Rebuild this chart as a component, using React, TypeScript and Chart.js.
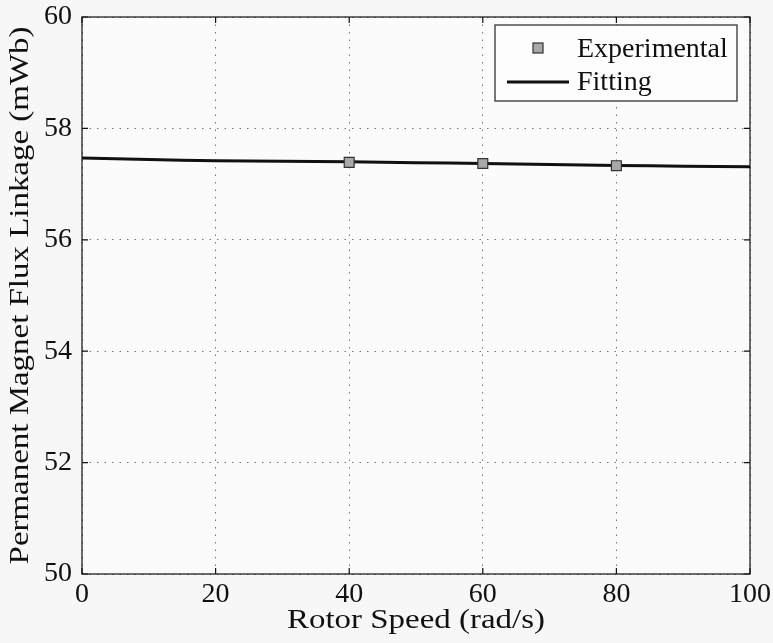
import React, { useEffect, useRef } from "react";
import { Chart, registerables } from "chart.js";

Chart.register(...registerables);

const fitSpeed = [0, 10, 20, 30, 40, 50, 60, 70, 80, 90, 100];
const fitFlux = [57.47, 57.44, 57.42, 57.41, 57.4, 57.385, 57.37, 57.35, 57.335, 57.32, 57.31];
const expSpeed = [40, 60, 80];
const expFlux = [57.39, 57.37, 57.33];
const xTicks = [0, 20, 40, 60, 80, 100];
const yTicks = [50, 52, 54, 56, 58, 60];
const legendLabels = ["Experimental", "Fitting"];
const xTitle = "Rotor Speed (rad/s)";
const yTitle = "Permanent Magnet Flux Linkage (mWb)";

const FONT = "'Liberation Serif', 'Times New Roman', serif";

const framePlugin = {
  id: "frame",
  beforeDraw(chart: any) {
    const ctx = chart.ctx;
    ctx.save();
    ctx.fillStyle = "#f7f7f7";
    ctx.fillRect(0, 0, chart.width, chart.height);
    const a = chart.chartArea;
    ctx.fillStyle = "#fbfbfb";
    ctx.fillRect(a.left, a.top, a.right - a.left, a.bottom - a.top);
    ctx.restore();
  },
  afterDraw(chart: any) {
    const ctx = chart.ctx;
    const a = chart.chartArea;
    const xs = chart.scales.x;
    const ys = chart.scales.y;
    ctx.save();
    ctx.strokeStyle = "#111";
    ctx.lineWidth = 1.2;
    ctx.strokeRect(a.left, a.top, a.right - a.left, a.bottom - a.top);
    const t = 6;
    ctx.beginPath();
    xTicks.forEach((v) => {
      const px = xs.getPixelForValue(v);
      ctx.moveTo(px, a.bottom);
      ctx.lineTo(px, a.bottom - t);
      ctx.moveTo(px, a.top);
      ctx.lineTo(px, a.top + t);
    });
    yTicks.forEach((v) => {
      const py = ys.getPixelForValue(v);
      ctx.moveTo(a.left, py);
      ctx.lineTo(a.left + t, py);
      ctx.moveTo(a.right, py);
      ctx.lineTo(a.right - t, py);
    });
    ctx.stroke();

    // axis titles (slightly wide serif, like the original)
    ctx.fillStyle = "#111";
    ctx.font = `27px ${FONT}`;
    ctx.textAlign = "center";
    ctx.textBaseline = "middle";
    ctx.save();
    ctx.translate((a.left + a.right) / 2, 621);
    ctx.scale(1.22, 1);
    ctx.fillText(xTitle, 0, 0);
    ctx.restore();
    ctx.save();
    ctx.translate(21, (a.top + a.bottom) / 2);
    ctx.rotate(-Math.PI / 2);
    ctx.scale(1.22, 1);
    ctx.fillText(yTitle, 0, 0);
    ctx.restore();

    // legend
    const bx = a.right - 255;
    const by = a.top + 8;
    const bw = 242;
    const bh = 76;
    ctx.fillStyle = "#fdfdfd";
    ctx.fillRect(bx, by, bw, bh);
    ctx.strokeStyle = "#222";
    ctx.lineWidth = 1.2;
    ctx.strokeRect(bx, by, bw, bh);
    ctx.fillStyle = "#a8a8a8";
    ctx.strokeStyle = "#333";
    ctx.lineWidth = 1.2;
    ctx.fillRect(bx + 38, by + 18, 10, 10);
    ctx.strokeRect(bx + 38, by + 18, 10, 10);
    ctx.strokeStyle = "#111";
    ctx.lineWidth = 3;
    ctx.beginPath();
    ctx.moveTo(bx + 12, by + 57);
    ctx.lineTo(bx + 74, by + 57);
    ctx.stroke();
    ctx.fillStyle = "#111";
    ctx.font = `28px ${FONT}`;
    ctx.textBaseline = "alphabetic";
    ctx.textAlign = "left";
    ctx.fillText(legendLabels[0], bx + 82, by + 32);
    ctx.fillText(legendLabels[1], bx + 82, by + 65);
    ctx.restore();
  },
};

export default function App() {
  const ref = useRef<HTMLCanvasElement>(null);
  useEffect(() => {
    if (!ref.current) return;
    const chart = new Chart(ref.current, {
      type: "scatter",
      data: {
        datasets: [
          {
            label: legendLabels[1],
            data: fitSpeed.map((x, i) => ({ x, y: fitFlux[i] })),
            showLine: true,
            borderColor: "#111",
            borderWidth: 3,
            pointRadius: 0,
            tension: 0.3,
            order: 2,
          },
          {
            label: legendLabels[0],
            data: expSpeed.map((x, i) => ({ x, y: expFlux[i] })),
            showLine: false,
            pointStyle: "rect",
            pointRadius: 7,
            pointBackgroundColor: "#a8a8a8",
            pointBorderColor: "#333",
            pointBorderWidth: 1.2,
            order: 1,
          },
        ],
      },
      options: {
        responsive: false,
        animation: false,
        layout: { padding: { top: 17, right: 23, left: 0, bottom: 0 } },
        plugins: { legend: { display: false }, tooltip: { enabled: false } },
        scales: {
          x: {
            type: "linear",
            min: 0,
            max: 100,
            afterBuildTicks: (s: any) => {
              s.ticks = xTicks.map((v) => ({ value: v }));
            },
            afterFit: (s: any) => {
              s.height = 69;
              s.paddingLeft = 0;
              s.paddingRight = 0;
            },
            grid: { color: "#777", lineWidth: 1, drawTicks: false },
            border: { display: false, dash: [1.5, 6] },
            ticks: {
              color: "#111",
              padding: 4,
              font: { family: FONT, size: 28 },
              maxRotation: 0,
            },
            title: { display: false },
          },
          y: {
            type: "linear",
            min: 50,
            max: 60,
            afterBuildTicks: (s: any) => {
              s.ticks = yTicks.map((v) => ({ value: v }));
            },
            afterFit: (s: any) => {
              s.width = 82;
              s.paddingTop = 0;
              s.paddingBottom = 0;
            },
            grid: { color: "#777", lineWidth: 1, drawTicks: false },
            border: { display: false, dash: [1.5, 6] },
            ticks: {
              color: "#111",
              padding: 10,
              font: { family: FONT, size: 28 },
            },
            title: { display: false },
          },
        },
      },
      plugins: [framePlugin],
    } as any);
    return () => chart.destroy();
  }, []);
  return (
    <div style={{ position: "fixed", left: 0, top: 0, width: 773, height: 643 }}>
      <canvas ref={ref} width={773} height={643} />
    </div>
  );
}
